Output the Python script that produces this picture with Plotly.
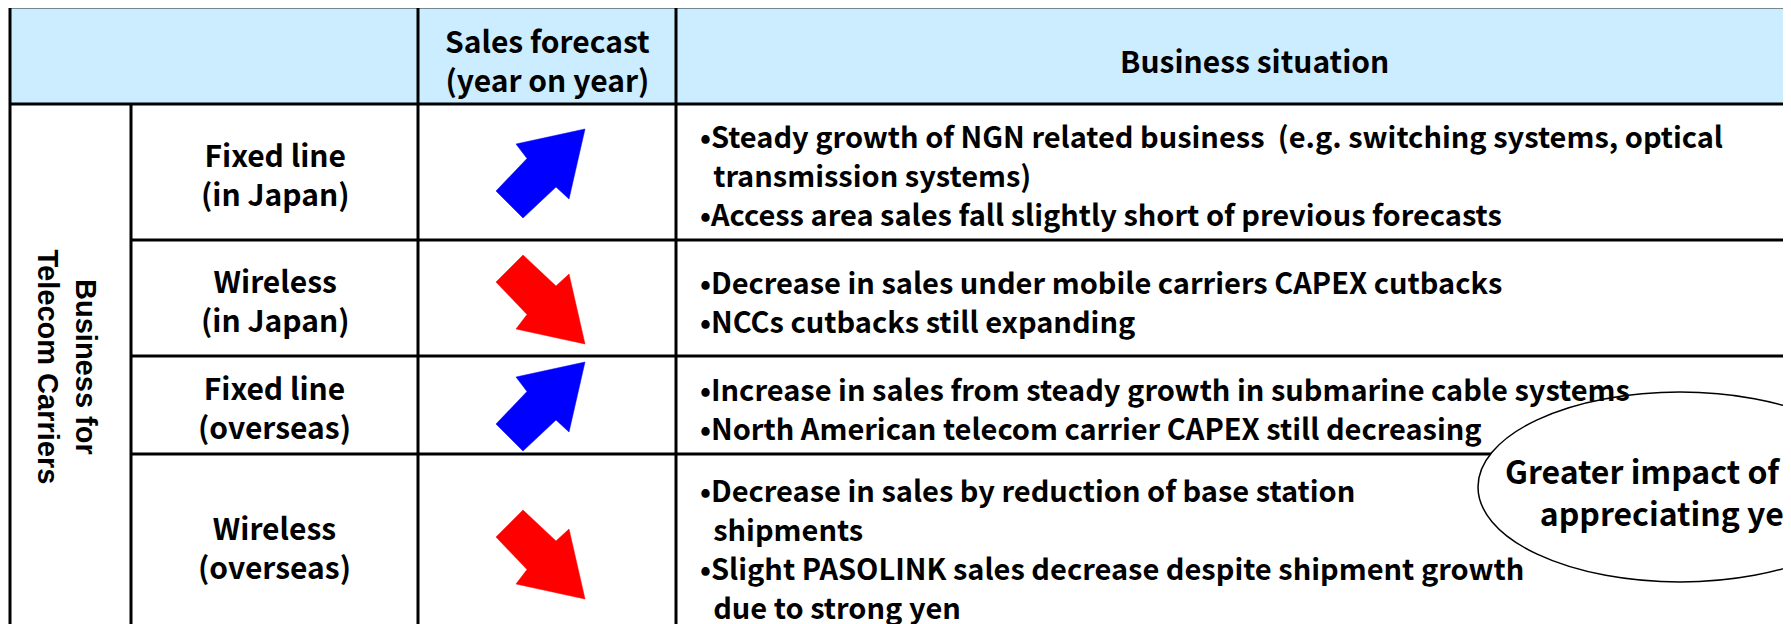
import plotly.graph_objects as go

# ---------------- data ----------------
header_labels = ["Sales forecast<br>(year on year)", "Business situation"]
group_label = "Business for<br>Telecom Carriers"
categories = ["Fixed line<br>(in Japan)", "Wireless<br>(in Japan)",
              "Fixed line<br>(overseas)", "Wireless<br>(overseas)"]
forecast_direction = [1, -1, 1, -1]          # +1 = up (increase), -1 = down (decrease)
situations = [
    "•Steady growth of NGN related business  (e.g. switching systems, optical<br>"
    "\u00a0\u00a0transmission systems)<br>"
    "•Access area sales fall slightly short of previous forecasts",
    "•Decrease in sales under mobile carriers CAPEX cutbacks<br>"
    "•NCCs cutbacks still expanding",
    "•Increase in sales from steady growth in submarine cable systems<br>"
    "•North American telecom carrier CAPEX still decreasing",
    "•Decrease in sales by reduction of base station<br>"
    "\u00a0\u00a0shipments<br>"
    "•Slight PASOLINK sales decrease despite shipment growth<br>"
    "\u00a0\u00a0due to strong yen",
]
callout_text = "Greater impact of the<br>appreciating yen"

# ---------------- layout geometry (page pixel space) ----------------
W, H = 1791, 624
OFF = 8  # default page body margin
col_edges = [10, 131, 418, 676, 1860]
row_edges = [7, 104, 240, 356, 454, 636]
HEADER_FILL = "#CCECFF"
FONT = "Noto Sans CJK JP, sans-serif"
FS = 30
BODY_FS = 29
LINE_H = 39
BLACK = "#000000"

fig = go.Figure()

shapes = []
shapes.append(dict(type="rect", x0=col_edges[0], x1=col_edges[-1], y0=row_edges[0], y1=row_edges[1],
                   fillcolor=HEADER_FILL, line=dict(width=0), layer="below"))
lw = 3
shapes.append(dict(type="line", x0=col_edges[0], x1=col_edges[-1], y0=row_edges[0], y1=row_edges[0],
                   line=dict(color="#222222", width=lw)))
shapes.append(dict(type="line", x0=col_edges[0], x1=col_edges[-1], y0=row_edges[1], y1=row_edges[1],
                   line=dict(color=BLACK, width=lw)))
for y in row_edges[2:-1]:
    shapes.append(dict(type="line", x0=col_edges[1], x1=col_edges[-1], y0=y, y1=y,
                       line=dict(color=BLACK, width=lw)))
shapes.append(dict(type="line", x0=col_edges[0], x1=col_edges[0], y0=row_edges[0], y1=H + OFF + 10,
                   line=dict(color=BLACK, width=lw)))
shapes.append(dict(type="line", x0=col_edges[1], x1=col_edges[1], y0=row_edges[1], y1=H + OFF + 10,
                   line=dict(color=BLACK, width=lw)))
for x in col_edges[2:4]:
    shapes.append(dict(type="line", x0=x, x1=x, y0=row_edges[0], y1=H + OFF + 10,
                       line=dict(color=BLACK, width=lw)))

# callout ellipse (covers table lines)
ecx, ecy, erx, ery = 1680, 487, 202, 95
shapes.append(dict(type="circle", x0=ecx - erx, x1=ecx + erx, y0=ecy - ery, y1=ecy + ery,
                   fillcolor="white", line=dict(color=BLACK, width=1.5)))

annotations = []
def txt(x, y, text, xanchor="center", align="center", size=FS, family=FONT, weight="bold", angle=0):
    annotations.append(dict(x=x, y=y, xref="x", yref="y", text=text, showarrow=False,
                            xanchor=xanchor, yanchor="middle", align=align, textangle=angle,
                            font=dict(family=family, size=size, color=BLACK, weight=weight)))

txt((col_edges[2] + col_edges[3]) / 2, (row_edges[0] + row_edges[1]) / 2 + 4, header_labels[0])
txt(1254, (row_edges[0] + row_edges[1]) / 2 + 4, header_labels[1])

txt((col_edges[0] + col_edges[1]) / 2 - 4, (row_edges[1] + row_edges[-1]) / 2 - 3, group_label,
    size=29, family="Liberation Sans, Arial, sans-serif", weight="bold", angle=90)

arrow_up = [(44.5, -44.5), (-24.5, -29.5), (-13.5, -15), (-44.5, 17.5),
            (-17.5, 44.5), (15.5, 13.5), (28.5, 25.5), (44.5, -44.5)]

for i, (cat, d, sit) in enumerate(zip(categories, forecast_direction, situations)):
    y0, y1 = row_edges[i + 1], row_edges[i + 2]
    cy = (y0 + y1) / 2
    txt((col_edges[1] + col_edges[2]) / 2, cy + 1, cat)
    lines = sit.split("<br>")
    n = len(lines)
    for k, line in enumerate(lines):
        ly = cy + 2 + (k - (n - 1) / 2) * LINE_H
        txt(col_edges[3] + 22, ly, line, xanchor="left", align="left", size=BODY_FS)
    ax_c = 540.5
    ay_c = cy + 1.5 + (8 if i == 3 else 0)
    xs = [ax_c + p[0] for p in arrow_up]
    ys = [ay_c + p[1] * (1 if d > 0 else -1) for p in arrow_up]
    color = "#0000FF" if d > 0 else "#FF0000"
    fig.add_trace(go.Scatter(x=xs, y=ys, mode="lines", fill="toself", fillcolor=color,
                             line=dict(color=color, width=0.5), hoverinfo="skip", showlegend=False))

txt(ecx - 8, ecy + 4, callout_text, size=32)

fig.update_layout(
    width=W, height=H, margin=dict(l=0, r=0, t=0, b=0),
    paper_bgcolor="white", plot_bgcolor="white",
    xaxis=dict(range=[OFF, W + OFF], visible=False, fixedrange=True),
    yaxis=dict(range=[H + OFF, OFF], visible=False, fixedrange=True),
    shapes=shapes, annotations=annotations, showlegend=False,
)

fig.write_html("out.html", config={"displayModeBar": False})
